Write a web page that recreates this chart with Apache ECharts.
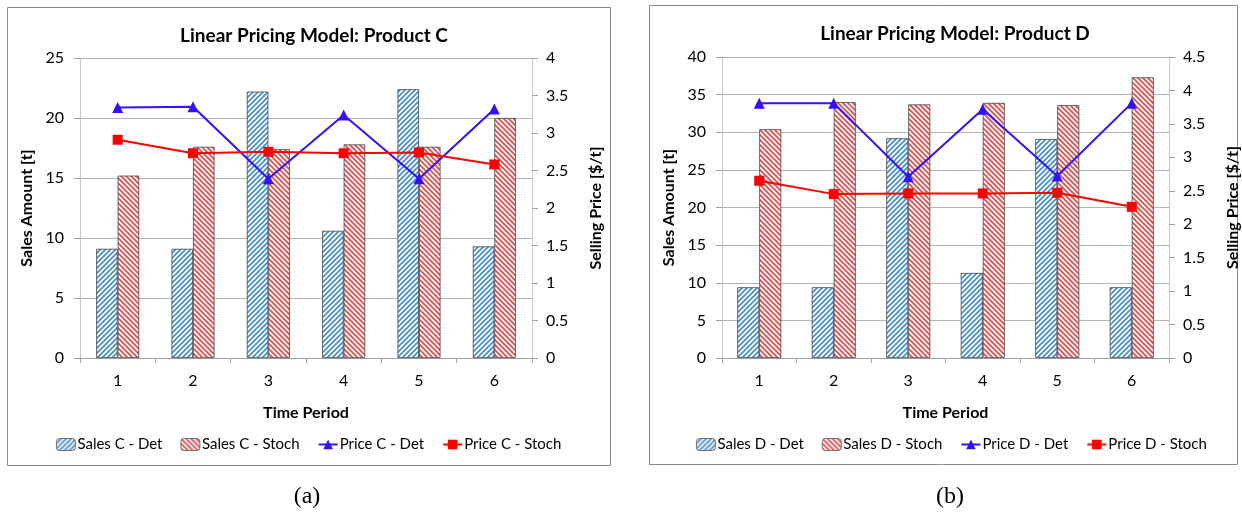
<!DOCTYPE html>
<html>
<head>
<meta charset="utf-8">
<script src="https://cdn.jsdelivr.net/npm/echarts@6/dist/echarts.min.js"></script>
<style>
html,body{margin:0;padding:0;background:#fff;}
#chart{width:1242px;height:517px;}
</style>
</head>
<body>
<div id="chart"></div>
<script>
// ---- data ----
var categories = ['1', '2', '3', '4', '5', '6'];
var salesCDet   = [9.1, 9.1, 22.2, 10.6, 22.4, 9.3];
var salesCStoch = [15.2, 17.6, 17.4, 17.8, 17.6, 20.0];
var priceCDet   = [3.34, 3.35, 2.39, 3.24, 2.39, 3.32];
var priceCStoch = [2.91, 2.73, 2.75, 2.73, 2.74, 2.58];
var salesDDet   = [9.4, 9.4, 29.2, 11.3, 29.1, 9.4];
var salesDStoch = [30.4, 34.0, 33.7, 33.9, 33.6, 37.3];
var priceDDet   = [3.81, 3.81, 2.71, 3.72, 2.72, 3.81];
var priceDStoch = [2.65, 2.45, 2.46, 2.46, 2.47, 2.26];
var namesC = ['Sales C - Det', 'Sales C - Stoch', 'Price C - Det', 'Price C - Stoch'];
var namesD = ['Sales D - Det', 'Sales D - Stoch', 'Price D - Det', 'Price D - Stoch'];
var titles = ['Linear Pricing Model: Product C', 'Linear Pricing Model: Product D'];
var captions = ['(a)', '(b)'];

// ---- hatch patterns ----
function hatch(color, rising) {
  var c = document.createElement('canvas');
  var s = 5;
  c.width = s; c.height = s;
  var g = c.getContext('2d');
  g.fillStyle = '#fff';
  g.fillRect(0, 0, s, s);
  g.strokeStyle = color;
  g.lineWidth = 1.8;
  g.beginPath();
  if (rising) {
    g.moveTo(-1, s + 1); g.lineTo(s + 1, -1);
    g.moveTo(-2, 2); g.lineTo(2, -2);
    g.moveTo(s - 2, s + 2); g.lineTo(s + 2, s - 2);
  } else {
    g.moveTo(-1, -1); g.lineTo(s + 1, s + 1);
    g.moveTo(s - 2, -2); g.lineTo(s + 2, 2);
    g.moveTo(-2, s - 2); g.lineTo(2, s + 2);
  }
  g.stroke();
  return { image: c, repeat: 'repeat' };
}
var blueHatch = hatch('#4a8fd0', true);
var redHatch = hatch('#e05050', false);

var FONT = 'Lato';
var BLUE = '#3311ff';
var RED = '#ff0000';

var grids = [
  { left: 80, top: 58, width: 452, height: 300 },
  { left: 722, top: 57, width: 451, height: 301 }
];
var rightMax = [4, 4.5];
var leftMax = [25, 40];
var barW = [21.5, 22];
var legendLeft = [56, 696];
var titleCenter = [309, 950];
var titleTop = [21, 19];

var option = {
  animation: false,
  backgroundColor: '#fff',
  title: [],
  legend: [],
  grid: grids,
  xAxis: [],
  yAxis: [],
  series: [],
  graphic: []
};

var sets = [
  { names: namesC, sDet: salesCDet, sSto: salesCStoch, pDet: priceCDet, pSto: priceCStoch },
  { names: namesD, sDet: salesDDet, sSto: salesDStoch, pDet: priceDDet, pSto: priceDStoch }
];

for (var i = 0; i < 2; i++) {
  var st = sets[i];
  option.title.push({
    text: titles[i], left: titleCenter[i], top: titleTop[i], textAlign: 'center',
    textStyle: { fontFamily: FONT, fontWeight: 'bold', fontSize: 19, color: '#000' }
  });
  option.legend.push({
    data: st.names.map(function (n, k) {
      return k < 2 ? { name: n, itemStyle: { borderColor: '#555', borderWidth: 0.8 } } : { name: n };
    }),
    left: legendLeft[i], top: 437, padding: 0, itemGap: 18, itemWidth: 19, itemHeight: 12,
    textStyle: { fontFamily: FONT, fontSize: 15, color: '#000', padding: [0, 0, 0, -3] }
  });
  option.xAxis.push({
    type: 'category', gridIndex: i, data: categories,
    axisLine: { lineStyle: { color: '#a0a0a0', width: 1 } },
    axisTick: { show: true, alignWithLabel: false, length: 5, lineStyle: { color: '#a0a0a0' } },
    axisLabel: { fontFamily: FONT, fontSize: 16, color: '#000', margin: 15 },
    name: 'Time Period', nameLocation: 'middle', nameGap: 47,
    nameTextStyle: { fontFamily: FONT, fontWeight: 'bold', fontSize: 16, color: '#000' }
  });
  option.yAxis.push({
    type: 'value', gridIndex: i, min: 0, max: leftMax[i], interval: 5, position: 'left',
    axisLine: { show: true, lineStyle: { color: '#c8c8c8' } },
    axisTick: { show: true, length: 6, lineStyle: { color: '#a0a0a0' } },
    splitLine: { show: true, lineStyle: { color: '#b4b4b4', width: 1 } },
    axisLabel: { fontFamily: FONT, fontSize: 16, color: '#000', margin: 16 },
    name: 'Sales Amount [t]', nameLocation: 'middle', nameRotate: 90, nameGap: 45,
    nameTextStyle: { fontFamily: FONT, fontWeight: 'bold', fontSize: 16, color: '#000' }
  });
  option.yAxis.push({
    type: 'value', gridIndex: i, min: 0, max: rightMax[i], interval: 0.5, position: 'right',
    axisLine: { show: true, lineStyle: { color: '#c8c8c8' } },
    axisTick: { show: true, length: 6, lineStyle: { color: '#a0a0a0' } },
    splitLine: { show: false },
    axisLabel: { fontFamily: FONT, fontSize: 16, color: '#000', margin: 14 },
    name: 'Selling Price [$/t]', nameLocation: 'middle', nameRotate: 90, nameGap: 56,
    nameTextStyle: { fontFamily: FONT, fontWeight: 'bold', fontSize: 16, color: '#000' }
  });
  var yl = i * 2, yr = i * 2 + 1;
  option.series.push({
    name: st.names[0], type: 'bar', xAxisIndex: i, yAxisIndex: yl, data: st.sDet,
    barWidth: barW[i], barGap: '0%',
    itemStyle: { color: blueHatch, borderColor: '#444', borderWidth: 0.8 }
  });
  option.series.push({
    name: st.names[1], type: 'bar', xAxisIndex: i, yAxisIndex: yl, data: st.sSto,
    barWidth: barW[i], barGap: '0%',
    itemStyle: { color: redHatch, borderColor: '#444', borderWidth: 0.8 }
  });
  option.series.push({
    name: st.names[2], type: 'line', xAxisIndex: i, yAxisIndex: yr, data: st.pDet,
    symbol: 'triangle', symbolSize: 11, z: 5,
    lineStyle: { color: BLUE, width: 2 }, itemStyle: { color: BLUE }
  });
  option.series.push({
    name: st.names[3], type: 'line', xAxisIndex: i, yAxisIndex: yr, data: st.pSto,
    symbol: 'rect', symbolSize: 10, z: 5,
    lineStyle: { color: RED, width: 2 }, itemStyle: { color: RED }
  });
}

option.graphic = [
  { type: 'rect', shape: { x: 7.5, y: 7.5, width: 603, height: 458 },
    style: { fill: null, stroke: '#8a8a8a', lineWidth: 1 }, silent: true },
  { type: 'rect', shape: { x: 649.5, y: 5.5, width: 588, height: 459 },
    style: { fill: null, stroke: '#8a8a8a', lineWidth: 1 }, silent: true },
  { type: 'text', x: 307, y: 497, style: { text: captions[0], fontFamily: 'Liberation Serif', fontSize: 24,
    fill: '#000', textAlign: 'center', textVerticalAlign: 'middle' } },
  { type: 'text', x: 950, y: 497, style: { text: captions[1], fontFamily: 'Liberation Serif', fontSize: 24,
    fill: '#000', textAlign: 'center', textVerticalAlign: 'middle' } }
];

var chart = echarts.init(document.getElementById('chart'), null, { renderer: 'canvas' });
chart.setOption(option);
</script>
</body>
</html>
